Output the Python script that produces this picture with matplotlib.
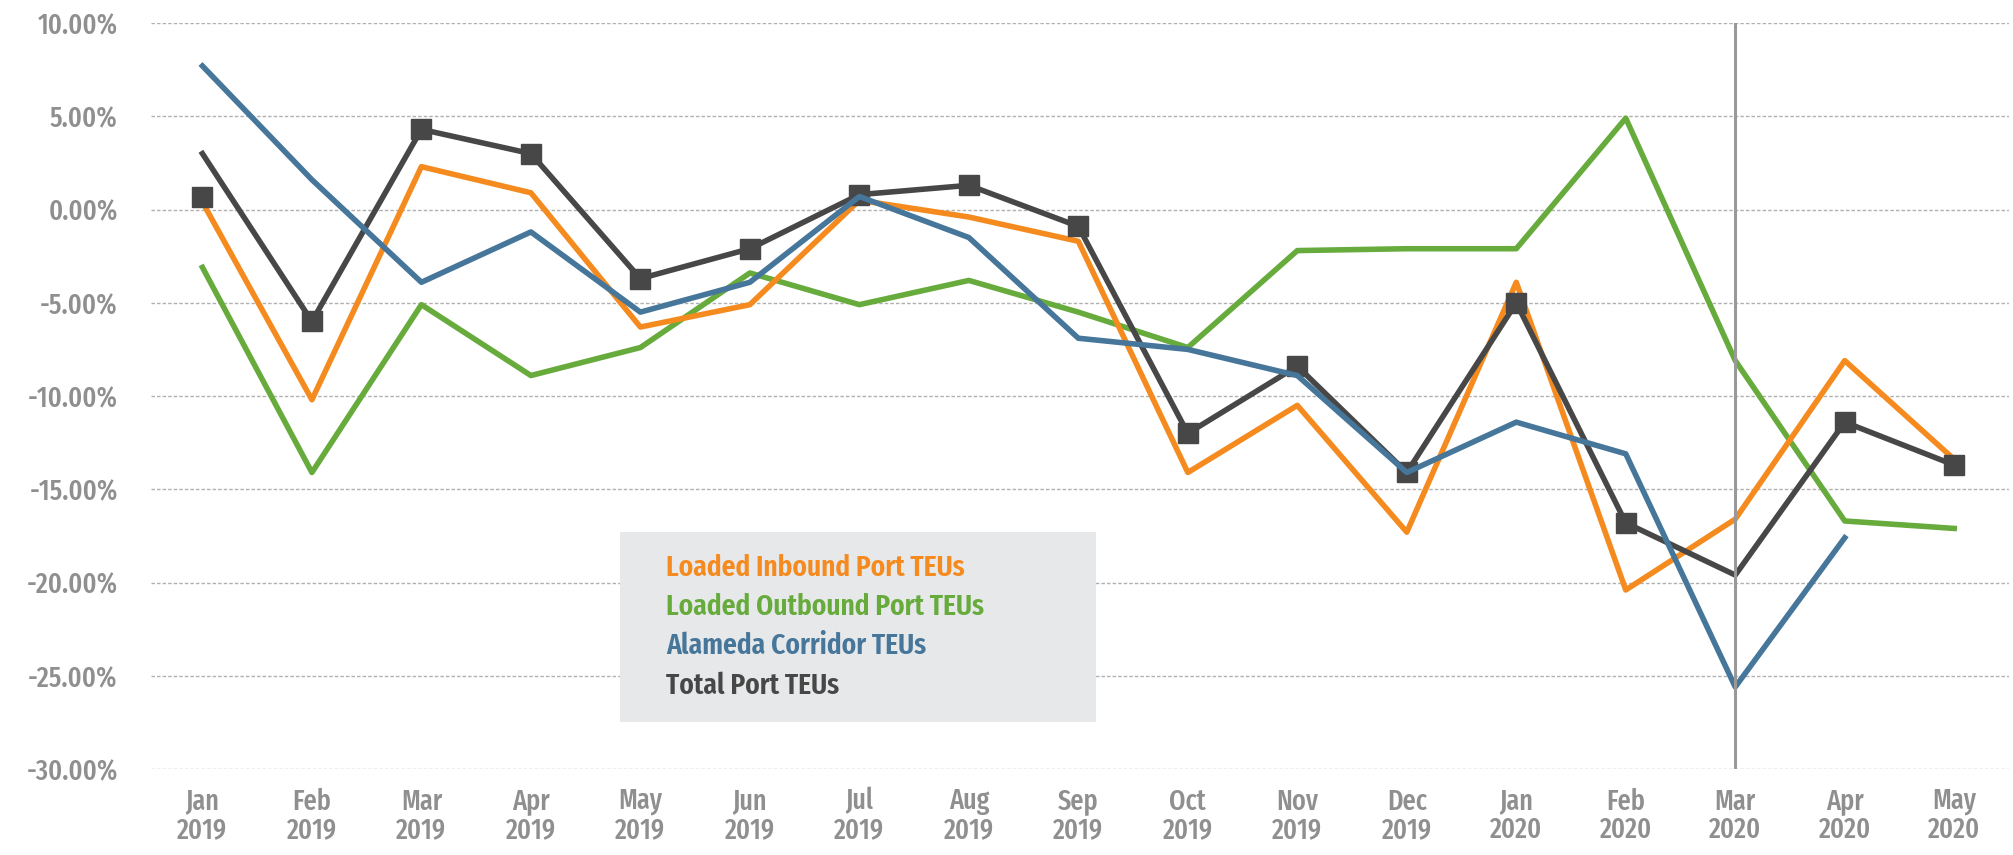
import numpy as np
import matplotlib
matplotlib.use("Agg")
import matplotlib.pyplot as plt

months = ["Jan\n2019", "Feb\n2019", "Mar\n2019", "Apr\n2019", "May\n2019", "Jun\n2019",
          "Jul\n2019", "Aug\n2019", "Sep\n2019", "Oct\n2019", "Nov\n2019", "Dec\n2019",
          "Jan\n2020", "Feb\n2020", "Mar\n2020", "Apr\n2020", "May\n2020"]

inbound = [0.4, -10.2, 2.3, 0.9, -6.3, -5.1, 0.5, -0.4, -1.7, -14.1, -10.5, -17.3,
           -3.9, -20.4, -16.6, -8.1, -13.4]
outbound = [-3.1, -14.1, -5.1, -8.9, -7.4, -3.4, -5.1, -3.8, -5.5, -7.4, -2.2, -2.1,
            -2.1, 4.9, -8.1, -16.7, -17.1]
alameda = [7.7, 1.6, -3.9, -1.2, -5.5, -3.9, 0.7, -1.5, -6.9, -7.5, -8.9, -14.1,
           -11.4, -13.1, -25.6, -17.6, np.nan]
total = [3.0, -6.0, 4.3, 3.0, -3.7, -2.1, 0.8, 1.3, -0.9, -12.0, -8.4, -14.1,
         -5.0, -16.8, -19.6, -11.4, -13.7]
# square markers (jan one sits off the line in the original, no marker at mar 2020)
total_marks = [0.7, -6.0, 4.3, 3.0, -3.7, -2.1, 0.8, 1.3, -0.9, -12.0, -8.4, -14.1,
               -5.0, -16.8, np.nan, -11.4, -13.7]

yticks = [10, 5, 0, -5, -10, -15, -20, -25, -30]
ylabels = ["10.00%", "5.00%", "0.00%", "-5.00%", "-10.00%", "-15.00%", "-20.00%", "-25.00%", "-30.00%"]

names = ["Loaded Inbound Port TEUs", "Loaded Outbound Port TEUs", "Alameda Corridor TEUs", "Total Port TEUs"]
colors = ["#f58a1f", "#67ab3d", "#46769a", "#474747"]

plt.rcParams['font.family'] = ['Fira Sans Extra Condensed', 'Fira Sans Condensed', 'DejaVu Sans']

fig = plt.figure(figsize=(20.13, 8.55), dpi=100)
ax = fig.add_axes([0.075, 0.1006, 0.923, 0.8724])
x = np.arange(len(months))

ax.plot(x, outbound, color=colors[1], lw=4.0, zorder=2)
ax.plot(x, inbound, color=colors[0], lw=4.0, zorder=3)
ax.plot(x, total, color=colors[3], lw=4.0, zorder=4)
ax.plot(x, total_marks, ls="none", marker="s", ms=14, color=colors[3], zorder=4)
ax.plot(x, alameda, color=colors[2], lw=4.0, zorder=5)

ax.axvline(14, ymin=0, ymax=1, color="#999999", lw=2.2, zorder=6)

ax.set_xlim(-0.47, 16.5)
ax.set_ylim(-30, 10)
ax.set_yticks(yticks)
ax.set_yticklabels(ylabels)
ax.set_xticks(x)
ax.set_xticklabels(months, linespacing=1.0)
ax.tick_params(axis="y", length=0, pad=24, labelsize=20.5, labelcolor="#8f8f8f")
ax.tick_params(axis="x", length=0, pad=13, labelsize=20.5, labelcolor="#8f8f8f")
for lab in ax.get_xticklabels() + ax.get_yticklabels():
    lab.set_fontweight("medium")

ax.grid(axis="y", color="#b0b0b0", lw=1.0, ls=(0, (2.5, 1.5)))
ax.set_axisbelow(True)
for s in ax.spines.values():
    s.set_visible(False)

# legend box, text only
bx0, by0 = 620 / 2013, 1 - 722 / 855
box = plt.Rectangle((bx0, by0), (1096 - 620) / 2013, (722 - 532) / 855, transform=fig.transFigure,
                    facecolor="#e7e8ea", edgecolor="none", zorder=1)
fig.add_artist(box)
rows = [568, 607, 646, 686]
for name, c, yy in zip(names, colors, rows):
    fig.text(666 / 2013, 1 - yy / 855, name, color=c, fontsize=21.5, fontweight="semibold",
             va="center", ha="left", zorder=2)

fig.savefig("out.png", dpi=100, facecolor="white")
